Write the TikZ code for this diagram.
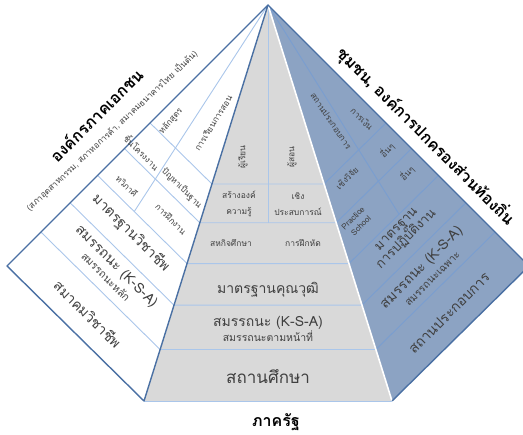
\documentclass[tikz,border=0pt]{standalone}
\usepackage{fontspec}
\setmainfont[Script=Thai]{Loma}
\usetikzlibrary{calc}
\definecolor{edgeblue}{RGB}{74,112,163}
\definecolor{lineblue}{RGB}{170,198,234}
\definecolor{rowblue}{RGB}{122,158,208}
\definecolor{facegray}{RGB}{217,217,217}
\definecolor{faceblue}{RGB}{140,163,195}
\definecolor{txtgray}{RGB}{64,64,64}
\tikzset{
  outline/.style={draw=edgeblue, line width=1.4pt, line join=round},
  rowline/.style={draw=lineblue, line width=0.9pt},
  bluerow/.style={draw=rowblue, line width=0.9pt},
  cell/.style={text=txtgray, font=\fontsize{8.5}{16}\selectfont, inner sep=0pt, align=center},
  band/.style={text=txtgray, font=\fontsize{14}{15}\selectfont, inner sep=0pt, align=center},
  facetitle/.style={font=\fontsize{16}{18}\selectfont\bfseries, inner sep=0pt},
}
\newcommand{\subline}[1]{{\fontsize{10.5}{11}\selectfont #1}}
\begin{document}
\begin{tikzpicture}[x=1pt,y=-1pt]
  \useasboundingbox (0,0) rectangle (523,435);
  \clip (0,0) rectangle (523,435);
  % --- corners of the three faces
  \coordinate (apex) at (268,5);
  \coordinate (lcorner) at (7,266);
  \coordinate (lbase) at (144,401);
  \coordinate (rbase) at (392,401);
  \coordinate (rcorner) at (529,266);

  % --- faces
  \fill[facegray] (apex) -- (lbase) -- (rbase) -- cycle;
  \fill[faceblue] (apex) -- (rcorner) -- (rbase) -- cycle;

  % --- rows (every cut runs parallel to the base of its face)
  \foreach \u/\n in {0.452/1,0.55/2,0.653/3,0.758/4,0.87/5}{
    \coordinate (lo\n) at ($(apex)!\u!(lcorner)$);
    \coordinate (li\n) at ($(apex)!\u!(lbase)$);
    \coordinate (ri\n) at ($(apex)!\u!(rbase)$);
    \coordinate (ro\n) at ($(apex)!\u!(rcorner)$);
    \draw[rowline] (lo\n) -- (li\n) -- (ri\n);
    \draw[bluerow] (ri\n) -- (ro\n);
  }

  % --- column cuts from the apex
  \coordinate (lfan) at ($(lo3)!0.41!(li3)$);
  \coordinate (rfan) at ($(ro3)!0.44!(ri3)$);
  \coordinate (cfan) at ($(li2)!0.5!(ri2)$);
  \draw[rowline] (apex) -- (lfan);
  \draw[rowline] (apex) -- (cfan);
  \draw[bluerow] (apex) -- (rfan);

  % --- outlines
  \draw[rowline] (lbase) -- (rbase);
  \draw[white, line width=1.6pt] (apex) -- (rbase);
  \draw[outline] (apex) -- (lcorner) -- (lbase) -- cycle;
  \draw[outline] (apex) -- (rcorner) -- (rbase);

  % --- left face
  \node[band, rotate=-45] (lassoc) at (88,314) {สมาคมวิชาชีพ};
  \node[band, rotate=-45] (lcomp) at (112,271) {สมรรถนะ (K-S-A)\\\subline{สมรรถนะหลัก}};
  \node[band, rotate=-45] (lstd) at (131,233) {มาตรฐานวิชาชีพ};
  \node[cell, rotate=-45] (ldual) at (127,186) {ทวิภาคี};
  \node[cell, rotate=-45] (ltrain) at (171,219) {การฝึกงาน};
  \node[cell, rotate=-45] (lproj) at (142,152) {ชิ้นโครงงาน};
  \node[cell, rotate=-45] (lpbl) at (182,188) {ปัญหาเป็นฐาน};
  \node[cell, rotate=50] (lcurr) at (171,121) {หลักสูตร};
  \node[cell, rotate=58] (lteach) at (213,123) {การเรียนการสอน};

  % --- centre face
  \node[cell, rotate=90] (clearn) at (243,157) {ผู้เรียน};
  \node[cell, rotate=90] (cteach) at (292,157) {ผู้สอน};
  \node[cell] (cbuild) at (239,204) {สร้างองค์\\ความรู้};
  \node[cell] (cexp) at (298,204) {เชิง\\ประสบการณ์};
  \node[cell] (ccoop) at (231,243) {สหกิจศึกษา};
  \node[cell] (cdrill) at (303,243) {การฝึกหัด};
  \node[band] (cqual) at (268,290) {มาตรฐานคุณวุฒิ};
  \node[band] (ccomp) at (268,329) {สมรรถนะ (K-S-A)\\\subline{สมรรถนะตามหน้าที่}};
  \node[band, font=\fontsize{17}{18}\selectfont] (cschool) at (268,377) {สถานศึกษา};

  % --- right face
  \node[band, rotate=45] (rplace) at (449,313) {สถานประกอบการ};
  \node[band, rotate=45] (rcomp) at (426,272) {สมรรถนะ (K-S-A)\\\subline{สมรรถนะเฉพาะ}};
  \node[band, rotate=45, font=\fontsize{13}{14}\selectfont] (rstd) at (402,235) {มาตรฐาน\\การปฏิบัติงาน};
  \node[cell, rotate=45, font=\fontsize{8}{11}\selectfont] (rpract) at (357,222) {Practice\\School};
  \node[cell, rotate=45] (rother) at (407,173) {อื่นๆ};
  \node[cell, rotate=45] (rresearch) at (347,178) {เชิงวิจัย};
  \node[cell, rotate=45] (rothertop) at (387,150) {อื่นๆ};
  \node[cell, rotate=-45] (rmoney) at (362,119) {การเงิน};
  \node[cell, rotate=-56] (rfirm) at (331,121) {สถานประกอบการ};

  % --- titles
  \node[facetitle, rotate=45] (private) at (96,115) {องค์กรภาคเอกชน};
  \node[inner sep=0pt, rotate=43, text=txtgray, font=\fontsize{8.5}{9}\selectfont] (privnote) at (112,131)
    {(สภาอุตสาหกรรม, สภาหอการค้า, สมาคมธนาคารไทย เป็นต้น)};
  \node[facetitle, rotate=-45] (local) at (426,136) {ชุมชน, องค์การปกครองส่วนท้องถิ่น};
  \node[facetitle] (state) at (276,422) {ภาครัฐ};
\end{tikzpicture}
\end{document}
